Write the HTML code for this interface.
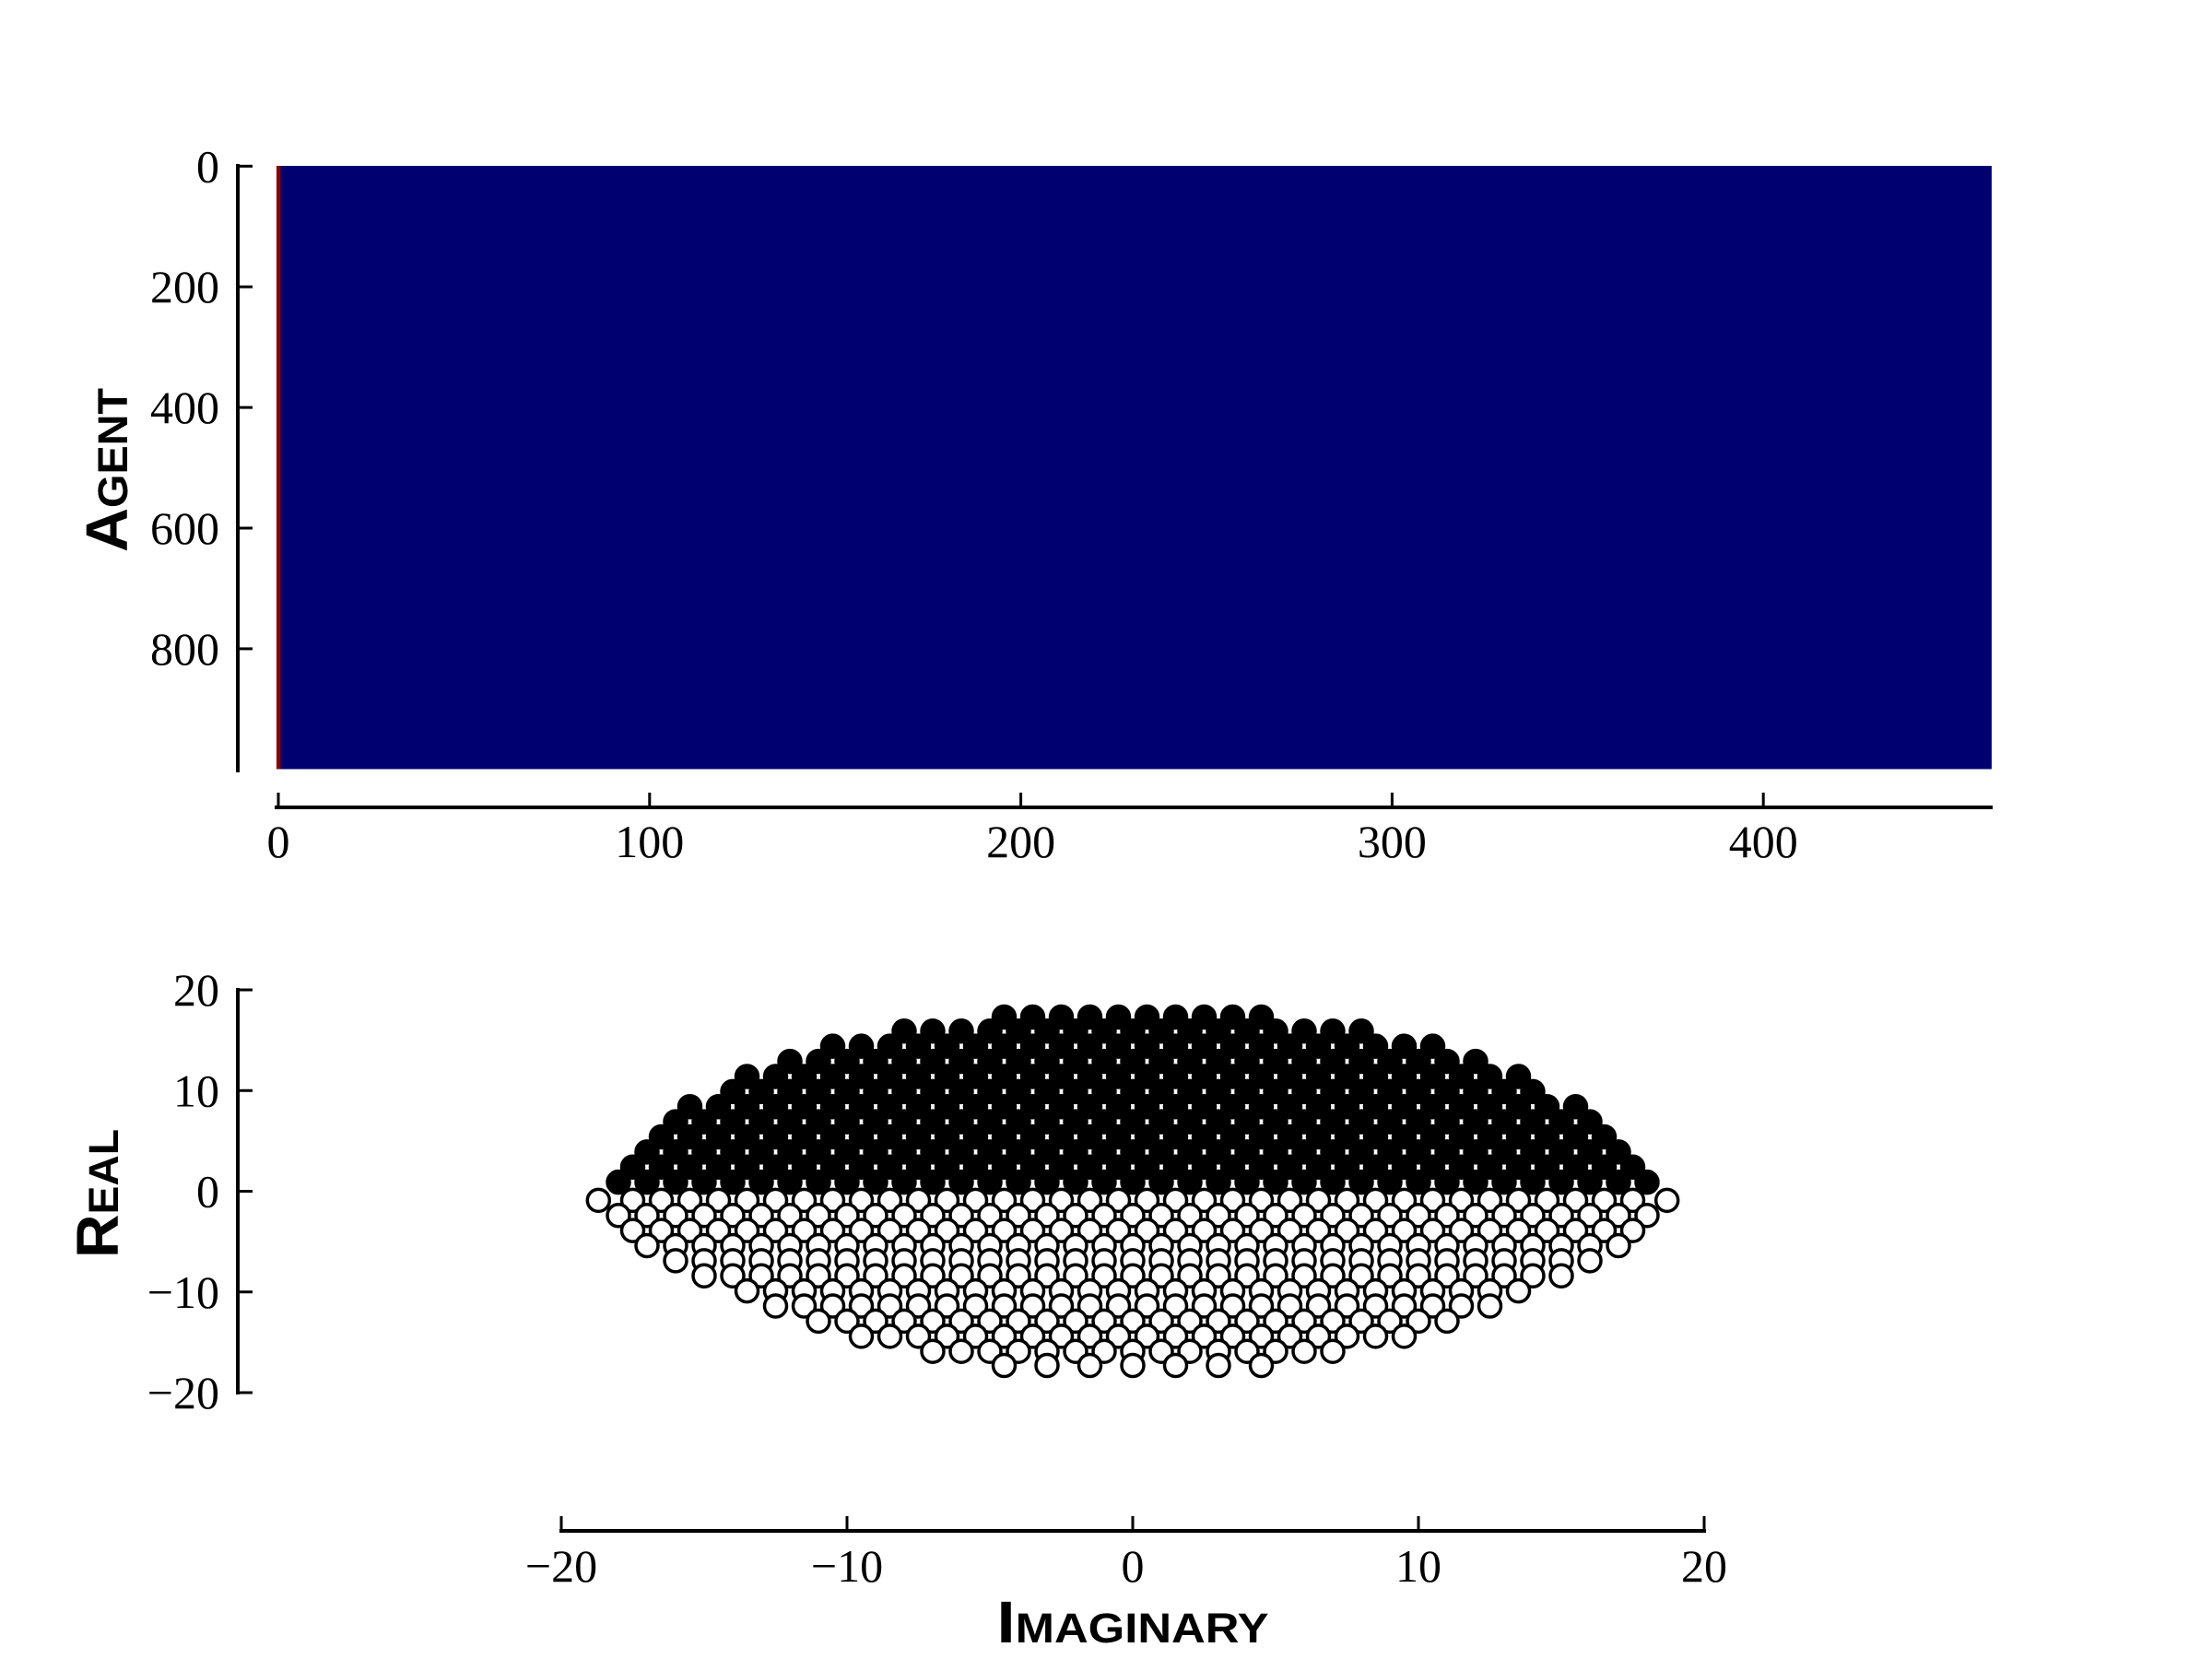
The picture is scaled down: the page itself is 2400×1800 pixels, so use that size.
<!DOCTYPE html>
<html><head><meta charset="utf-8"><style>
html,body{margin:0;padding:0;background:#fff;}
svg{display:block;}
.tk{font-family:"Liberation Serif",serif;font-size:50px;fill:#000;}
.ax{font-family:"Liberation Sans",sans-serif;font-weight:bold;font-variant:small-caps;font-size:64px;fill:#000;}
</style></head><body>
<svg id="fig" width="2400" height="1800" viewBox="0 0 2400 1800">
<g id="topPanel"></g>
<g id="botPanel"></g>
</svg>
<script>
// ---- heatmap data ----
const heatCols = 462;
const heatRows = 1000;
const heatXTicks = [0,100,200,300,400];
const heatYTicks = [0,200,400,600,800];
const heatColValues = [1, 0]; // first column high (red), rest low (navy)

// ---- scatter data (rows of eigenvalues) ----
const upperReal = [0.9,2.4,3.9,5.4,6.9,8.4,9.9,11.4,12.9,14.4,15.9,17.3];
const upperImag = [
 [-18,-17,-16,-15,-14,-13,-12,-11,-10,-9,-8,-7,-6,-5,-4,-3,-2,-1,0,1,2,3,4,5,6,7,8,9,10,11,12,13,14,15,16,17,18],
 [-17.5,-16.5,-15.5,-14.5,-13.5,-12.5,-11.5,-10.5,-9.5,-8.5,-7.5,-6.5,-5.5,-4.5,-3.5,-2.5,-1.5,-0.5,0.5,1.5,2.5,3.5,4.5,5.5,6.5,7.5,8.5,9.5,10.5,11.5,12.5,13.5,14.5,15.5,16.5,17.5],
 [-17,-16,-15,-14,-13,-12,-11,-10,-9,-8,-7,-6,-5,-4,-3,-2,-1,0,1,2,3,4,5,6,7,8,9,10,11,12,13,14,15,16,17],
 [-16.5,-15.5,-14.5,-13.5,-12.5,-11.5,-10.5,-9.5,-8.5,-7.5,-6.5,-5.5,-4.5,-3.5,-2.5,-1.5,-0.5,0.5,1.5,2.5,3.5,4.5,5.5,6.5,7.5,8.5,9.5,10.5,11.5,12.5,13.5,14.5,15.5,16.5],
 [-16,-15,-14,-13,-12,-11,-10,-9,-8,-7,-6,-5,-4,-3,-2,-1,0,1,2,3,4,5,6,7,8,9,10,11,12,13,14,15,16],
 [-15.5,-14.5,-13.5,-12.5,-11.5,-10.5,-9.5,-8.5,-7.5,-6.5,-5.5,-4.5,-3.5,-2.5,-1.5,-0.5,0.5,1.5,2.5,3.5,4.5,5.5,6.5,7.5,8.5,9.5,10.5,11.5,12.5,13.5,14.5,15.5],
 [-14,-13,-12,-11,-10,-9,-8,-7,-6,-5,-4,-3,-2,-1,0,1,2,3,4,5,6,7,8,9,10,11,12,13,14],
 [-13.5,-12.5,-11.5,-10.5,-9.5,-8.5,-7.5,-6.5,-5.5,-4.5,-3.5,-2.5,-1.5,-0.5,0.5,1.5,2.5,3.5,4.5,5.5,6.5,7.5,8.5,9.5,10.5,11.5,12.5,13.5],
 [-12,-11,-10,-9,-8,-7,-6,-5,-4,-3,-2,-1,0,1,2,3,4,5,6,7,8,9,10,11,12],
 [-10.5,-9.5,-8.5,-7.5,-6.5,-5.5,-4.5,-3.5,-2.5,-1.5,-0.5,0.5,1.5,2.5,3.5,4.5,5.5,6.5,7.5,8.5,9.5,10.5],
 [-8,-7,-6,-5,-4,-3,-2,-1,0,1,2,3,4,5,6,7,8],
 [-4.5,-3.5,-2.5,-1.5,-0.5,0.5,1.5,2.5,3.5,4.5]
];
const lowerReal = [-0.9,-2.4,-3.9,-5.4,-6.9,-8.4,-9.9,-11.4,-12.9,-14.4,-15.9,-17.3];
const lowerImag = [
 [-18.7,-17.5,-16.5,-15.5,-14.5,-13.5,-12.5,-11.5,-10.5,-9.5,-8.5,-7.5,-6.5,-5.5,-4.5,-3.5,-2.5,-1.5,-0.5,0.5,1.5,2.5,3.5,4.5,5.5,6.5,7.5,8.5,9.5,10.5,11.5,12.5,13.5,14.5,15.5,16.5,17.5,18.7],
 [-18,-17,-16,-15,-14,-13,-12,-11,-10,-9,-8,-7,-6,-5,-4,-3,-2,-1,0,1,2,3,4,5,6,7,8,9,10,11,12,13,14,15,16,17,18],
 [-17.5,-16.5,-15.5,-14.5,-13.5,-12.5,-11.5,-10.5,-9.5,-8.5,-7.5,-6.5,-5.5,-4.5,-3.5,-2.5,-1.5,-0.5,0.5,1.5,2.5,3.5,4.5,5.5,6.5,7.5,8.5,9.5,10.5,11.5,12.5,13.5,14.5,15.5,16.5,17.5],
 [-17,-16,-15,-14,-13,-12,-11,-10,-9,-8,-7,-6,-5,-4,-3,-2,-1,0,1,2,3,4,5,6,7,8,9,10,11,12,13,14,15,16,17],
 [-16,-15,-14,-13,-12,-11,-10,-9,-8,-7,-6,-5,-4,-3,-2,-1,0,1,2,3,4,5,6,7,8,9,10,11,12,13,14,15,16],
 [-15,-14,-13,-12,-11,-10,-9,-8,-7,-6,-5,-4,-3,-2,-1,0,1,2,3,4,5,6,7,8,9,10,11,12,13,14,15],
 [-13.5,-12.5,-11.5,-10.5,-9.5,-8.5,-7.5,-6.5,-5.5,-4.5,-3.5,-2.5,-1.5,-0.5,0.5,1.5,2.5,3.5,4.5,5.5,6.5,7.5,8.5,9.5,10.5,11.5,12.5,13.5],
 [-12.5,-11.5,-10.5,-9.5,-8.5,-7.5,-6.5,-5.5,-4.5,-3.5,-2.5,-1.5,-0.5,0.5,1.5,2.5,3.5,4.5,5.5,6.5,7.5,8.5,9.5,10.5,11.5,12.5],
 [-11,-10,-9,-8,-7,-6,-5,-4,-3,-2,-1,0,1,2,3,4,5,6,7,8,9,10,11],
 [-9.5,-8.5,-7.5,-6.5,-5.5,-4.5,-3.5,-2.5,-1.5,-0.5,0.5,1.5,2.5,3.5,4.5,5.5,6.5,7.5,8.5,9.5],
 [-7,-6,-5,-4,-3,-2,-1,0,1,2,3,4,5,6,7],
 [-4.5,-3,-1.5,0,1.5,3,4.5]
];
const scatterXTicks = [-20,-10,0,10,20];
const scatterYTicks = [20,10,0,-10,-20];

const NS = 'http://www.w3.org/2000/svg';
function mk(tag, attrs, parent){
  const e = document.createElementNS(NS, tag);
  for (const k in attrs) e.setAttribute(k, attrs[k]);
  parent.appendChild(e);
  return e;
}
function fmt(v){ return v < 0 ? '\u2212' + Math.abs(v) : String(v); }

// ---- heatmap panel ----
const topG = document.getElementById('topPanel');
const hx = c => 302 + c * 4.028;
const hy = r => 180.3 + r * 0.6545;
const hbody = mk('rect', {x: hx(-0.5), y: hy(-0.5), width: hx(heatCols - 0.5) - hx(-0.5), height: hy(heatRows - 0.5) - hy(-0.5), fill: '#000070'}, topG);


heatColValues.forEach((v, i) => {
  if (i === 0) {
    const col = mk('rect', {x: hx(-0.5), y: hy(-0.5), width: 4.5, height: hy(heatRows - 0.5) - hy(-0.5), fill: v > 0.5 ? '#8a0000' : '#000070'}, topG);
    
    
  }
});
let ln = mk('line', {x1: 258, y1: 178, x2: 258, y2: 838, stroke: '#000', 'stroke-width': 4}, topG);


ln = mk('line', {x1: 298, y1: 876, x2: 2162, y2: 876, stroke: '#000', 'stroke-width': 4}, topG);


heatYTicks.forEach(v => {
  const y = hy(v);
  const t = mk('line', {x1: 258, y1: y, x2: 274, y2: y, stroke: '#000', 'stroke-width': 3}, topG);
  
  
  const tx = mk('text', {x: 238, y: y + 17, 'text-anchor': 'end', class: 'tk'}, topG);
  
  
  tx.textContent = fmt(v);
});
heatXTicks.forEach(v => {
  const x = hx(v);
  const t = mk('line', {x1: x, y1: 876, x2: x, y2: 860, stroke: '#000', 'stroke-width': 3}, topG);
  
  
  const tx = mk('text', {x: x, y: 930, 'text-anchor': 'middle', class: 'tk'}, topG);
  
  
  tx.textContent = fmt(v);
});
const at = mk('text', {x: 0, y: 0, 'text-anchor': 'middle', class: 'ax', textLength: 178, lengthAdjust: 'spacingAndGlyphs', transform: 'translate(138,510) rotate(-90)'}, topG);


at.textContent = 'Agent';

// ---- scatter panel ----
const botG = document.getElementById('botPanel');
const sx = v => 1229 + v * 31.0;
const sy = v => 1292.5 - v * 10.925;
ln = mk('line', {x1: 258, y1: 1072, x2: 258, y2: 1513, stroke: '#000', 'stroke-width': 4}, botG);


ln = mk('line', {x1: 607, y1: 1661, x2: 1851, y2: 1661, stroke: '#000', 'stroke-width': 4}, botG);


scatterYTicks.forEach(v => {
  const y = sy(v);
  const t = mk('line', {x1: 258, y1: y, x2: 274, y2: y, stroke: '#000', 'stroke-width': 3}, botG);
  
  
  const tx = mk('text', {x: 238, y: y + 17, 'text-anchor': 'end', class: 'tk'}, botG);
  
  
  tx.textContent = fmt(v);
});
scatterXTicks.forEach(v => {
  const x = sx(v);
  const t = mk('line', {x1: x, y1: 1661, x2: x, y2: 1645, stroke: '#000', 'stroke-width': 3}, botG);
  
  
  const tx = mk('text', {x: x, y: 1716, 'text-anchor': 'middle', class: 'tk'}, botG);
  
  
  tx.textContent = fmt(v);
});
const pts = mk('g', {}, botG);


lowerReal.forEach((re, i) => {
  lowerImag[i].forEach(im => {
    const c = mk('circle', {cx: sx(im), cy: sy(re), r: 12, fill: '#fff', stroke: '#000', 'stroke-width': 3.5}, pts);
    
    
  });
});
upperReal.forEach((re, i) => {
  upperImag[i].forEach(im => {
    const c = mk('circle', {cx: sx(im), cy: sy(re), r: 12, fill: '#000', stroke: '#000', 'stroke-width': 3.5}, pts);
    
    
  });
});
const rt = mk('text', {x: 0, y: 0, 'text-anchor': 'middle', class: 'ax', textLength: 140, lengthAdjust: 'spacingAndGlyphs', transform: 'translate(128,1295) rotate(-90)'}, botG);


rt.textContent = 'Real';
const it = mk('text', {x: 1229, y: 1782, 'text-anchor': 'middle', class: 'ax', textLength: 295, lengthAdjust: 'spacingAndGlyphs'}, botG);


it.textContent = 'Imaginary';
</script>
</body></html>
